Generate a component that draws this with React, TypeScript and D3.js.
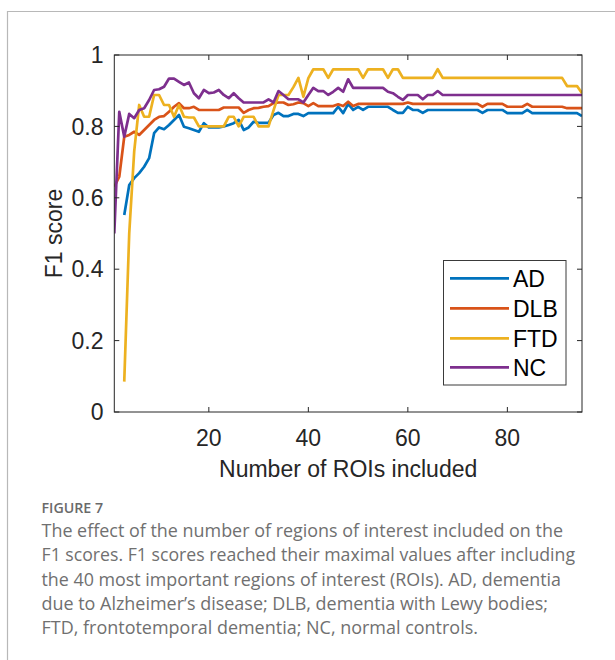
import React from "react";
import * as d3 from "d3";

const seriesNames = ["AD", "DLB", "FTD", "NC"];
const seriesColors = ["#0072BD", "#D95319", "#EDB120", "#7E2F8E"];

const adValues: (number | null)[] = [
  null, null, 0.552, 0.636, 0.655, 0.669, 0.687, 0.711, 0.781, 0.797,
  0.792, 0.804, 0.818, 0.832, 0.799, 0.795, 0.790, 0.785, 0.809, 0.797,
  0.797, 0.797, 0.800, 0.804, 0.809, 0.818, 0.790, 0.797, 0.813, 0.810,
  0.810, 0.810, 0.832, 0.838, 0.829, 0.829, 0.835, 0.835, 0.829, 0.837,
  0.837, 0.837, 0.837, 0.837, 0.837, 0.855, 0.837, 0.863, 0.846, 0.855,
  0.846, 0.855, 0.855, 0.855, 0.855, 0.855, 0.846, 0.838, 0.838, 0.855,
  0.846, 0.846, 0.838, 0.846, 0.846, 0.846, 0.846, 0.846, 0.846, 0.846,
  0.846, 0.846, 0.846, 0.846, 0.838, 0.846, 0.846, 0.846, 0.846, 0.837,
  0.837, 0.837, 0.837, 0.846, 0.837, 0.837, 0.837, 0.837, 0.837, 0.837,
  0.837, 0.837, 0.837, 0.837, 0.829,
];

const dlbValues: (number | null)[] = [
  0.631, 0.659, 0.771, 0.776, 0.785, 0.776, 0.790, 0.804, 0.818, 0.827,
  0.829, 0.841, 0.855, 0.865, 0.851, 0.851, 0.855, 0.846, 0.846, 0.846,
  0.846, 0.846, 0.853, 0.853, 0.853, 0.853, 0.838, 0.846, 0.851, 0.852,
  0.855, 0.857, 0.865, 0.867, 0.867, 0.860, 0.862, 0.867, 0.865, 0.857,
  0.865, 0.857, 0.857, 0.857, 0.857, 0.862, 0.857, 0.869, 0.857, 0.863,
  0.863, 0.863, 0.863, 0.863, 0.863, 0.863, 0.863, 0.863, 0.863, 0.867,
  0.863, 0.863, 0.863, 0.863, 0.863, 0.863, 0.863, 0.863, 0.863, 0.863,
  0.863, 0.863, 0.863, 0.863, 0.855, 0.863, 0.863, 0.863, 0.863, 0.855,
  0.855, 0.855, 0.855, 0.863, 0.855, 0.855, 0.855, 0.855, 0.855, 0.855,
  0.855, 0.851, 0.851, 0.851, 0.851,
];

const ftdValues: (number | null)[] = [
  null, null, 0.085, 0.50, 0.73, 0.86, 0.827, 0.827, 0.888, 0.888,
  0.86, 0.86, 0.827, 0.86, 0.827, 0.825, 0.825, 0.80, 0.80, 0.80,
  0.80, 0.80, 0.80, 0.827, 0.827, 0.80, 0.827, 0.827, 0.827, 0.80,
  0.80, 0.80, 0.845, 0.888, 0.888, 0.888, 0.91, 0.936, 0.883, 0.935,
  0.96, 0.96, 0.96, 0.936, 0.96, 0.96, 0.96, 0.96, 0.96, 0.96,
  0.936, 0.96, 0.96, 0.96, 0.96, 0.936, 0.96, 0.96, 0.936, 0.936,
  0.936, 0.936, 0.936, 0.936, 0.936, 0.96, 0.936, 0.936, 0.936, 0.936,
  0.936, 0.936, 0.936, 0.936, 0.936, 0.936, 0.936, 0.936, 0.936, 0.936,
  0.936, 0.936, 0.936, 0.936, 0.936, 0.936, 0.936, 0.936, 0.936, 0.936,
  0.936, 0.913, 0.913, 0.913, 0.893,
];

const ncValues: (number | null)[] = [
  0.50, 0.841, 0.771, 0.835, 0.823, 0.846, 0.851, 0.874, 0.902, 0.904,
  0.911, 0.934, 0.934, 0.925, 0.916, 0.923, 0.893, 0.879, 0.902, 0.893,
  0.895, 0.902, 0.888, 0.879, 0.893, 0.879, 0.867, 0.867, 0.867, 0.867,
  0.867, 0.876, 0.867, 0.899, 0.888, 0.876, 0.876, 0.876, 0.867, 0.888,
  0.908, 0.899, 0.899, 0.888, 0.897, 0.908, 0.897, 0.932, 0.908, 0.908,
  0.908, 0.908, 0.908, 0.908, 0.908, 0.897, 0.893, 0.883, 0.874, 0.888,
  0.888, 0.888, 0.876, 0.888, 0.888, 0.899, 0.888, 0.888, 0.888, 0.888,
  0.888, 0.888, 0.888, 0.888, 0.888, 0.888, 0.888, 0.888, 0.888, 0.888,
  0.888, 0.888, 0.888, 0.888, 0.888, 0.888, 0.888, 0.888, 0.888, 0.888,
  0.888, 0.888, 0.888, 0.888, 0.888,
];

const xTicks = [20, 40, 60, 80];
const yTicks = [0, 0.2, 0.4, 0.6, 0.8, 1];
const yTickLabels = ["0", "0.2", "0.4", "0.6", "0.8", "1"];
const xLabel = "Number of ROIs included";
const yLabel = "F1 score";
const figureLabel = "FIGURE 7";
const captionLines = [
  "The effect of the number of regions of interest included on the",
  "F1 scores. F1 scores reached their maximal values after including",
  "the 40 most important regions of interest (ROIs). AD, dementia",
  "due to Alzheimer\u2019s disease; DLB, dementia with Lewy bodies;",
  "FTD, frontotemporal dementia; NC, normal controls.",
];
const captionWidths = [521.5, 533.5, 519.5, 506.5, 436.5];

const allSeries = [adValues, dlbValues, ftdValues, ncValues];

export default function App() {
  const left = 114.3, right = 582, top = 55, bottom = 412;
  const x = d3.scaleLinear().domain([1, 95]).range([left, right]);
  const y = d3.scaleLinear().domain([0, 1]).range([bottom, top]);
  const axisColor = "#262626";
  const axisFont = "'Liberation Sans', Arial, Helvetica, sans-serif";
  const capFont = "'Open Sans', 'Noto Sans', sans-serif";

  const line = d3
    .line<number | null>()
    .defined((d) => d != null)
    .x((_, i) => x(i + 1))
    .y((d) => y(d as number));

  const tickLen = 5;
  const legX = 443.5, legY = 260.5, legW = 122.5, legH = 124.5;
  const legRowY = [278.3, 308.3, 338.3, 367.3];

  return (
    <svg
      width={615}
      height={660}
      style={{ position: "absolute", left: 0, top: 0, background: "#fff" }}
    >
      <rect x={0} y={0} width={615} height={660} fill="#fff" />
      {/* card border */}
      <path d="M7.5,700 V11.5 H700" fill="none" stroke="#b8b8b8" strokeWidth={1.2} />

      {/* plot background */}
      <rect x={left} y={top} width={right - left} height={bottom - top} fill="#fff" />

      <defs>
        <clipPath id="plotclip">
          <rect x={left} y={top - 2} width={right - left} height={bottom - top + 2} />
        </clipPath>
      </defs>

      {/* series */}
      <g clipPath="url(#plotclip)">
        {allSeries.map((vals, k) => (
          <path
            key={k}
            d={line(vals) || ""}
            fill="none"
            stroke={seriesColors[k]}
            strokeWidth={2.7}
            strokeLinejoin="round"
            strokeLinecap="butt"
          />
        ))}
      </g>

      {/* axes box */}
      <rect
        x={left}
        y={top}
        width={right - left}
        height={bottom - top}
        fill="none"
        stroke={axisColor}
        strokeWidth={1}
      />
      {xTicks.map((t) => (
        <g key={"xt" + t}>
          <line x1={x(t)} x2={x(t)} y1={bottom} y2={bottom - tickLen} stroke={axisColor} />
          <line x1={x(t)} x2={x(t)} y1={top} y2={top + tickLen} stroke={axisColor} />
          <text
            x={x(t)}
            y={446}
            textAnchor="middle"
            fontFamily={axisFont}
            fontSize={23}
            fill={axisColor}
          >
            {t}
          </text>
        </g>
      ))}
      {yTicks.map((t, i) => (
        <g key={"yt" + t}>
          <line x1={left} x2={left + tickLen} y1={y(t)} y2={y(t)} stroke={axisColor} />
          <line x1={right} x2={right - tickLen} y1={y(t)} y2={y(t)} stroke={axisColor} />
          <text
            x={103.5}
            y={y(t) + 8.2}
            textAnchor="end"
            fontFamily={axisFont}
            fontSize={23}
            fill={axisColor}
          >
            {yTickLabels[i]}
          </text>
        </g>
      ))}

      <text
        x={(left + right) / 2}
        y={477}
        textAnchor="middle"
        fontFamily={axisFont}
        fontSize={23}
        fill={axisColor}
      >
        {xLabel}
      </text>
      <text
        transform={`translate(62,${(top + bottom) / 2}) rotate(-90)`}
        textAnchor="middle"
        fontFamily={axisFont}
        fontSize={23}
        fill={axisColor}
      >
        {yLabel}
      </text>

      {/* legend */}
      <rect x={legX} y={legY} width={legW} height={legH} fill="#fff" stroke="#3a3a3a" strokeWidth={1} />
      {seriesNames.map((name, k) => (
        <g key={name}>
          <line
            x1={450}
            x2={509}
            y1={legRowY[k]}
            y2={legRowY[k]}
            stroke={seriesColors[k]}
            strokeWidth={2.7}
          />
          <text
            x={513}
            y={legRowY[k] + 8.2}
            fontFamily={axisFont}
            fontSize={23}
            fill="#000"
          >
            {name}
          </text>
        </g>
      ))}

      {/* caption */}
      <text x={41.5} y={513.3} fontFamily={capFont} fontSize={15} fontWeight={600} fill="#6a6a6a" textLength={61.6} lengthAdjust="spacingAndGlyphs">
        {figureLabel}
      </text>
      {captionLines.map((ln, i) => (
        <text
          key={i}
          x={41.5}
          y={537.3 + i * 24.1}
          fontFamily={capFont}
          fontSize={17.5}
          fill="#707070"
          textLength={captionWidths[i]}
          lengthAdjust="spacingAndGlyphs"
        >
          {ln}
        </text>
      ))}
    </svg>
  );
}
